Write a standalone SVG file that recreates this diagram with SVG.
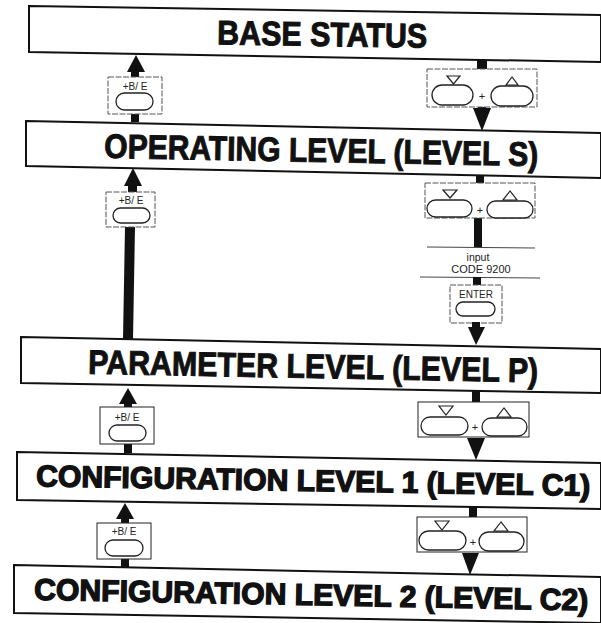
<svg xmlns="http://www.w3.org/2000/svg" width="601" height="623" viewBox="0 0 601 623">
<style>
.bar{fill:#fff;stroke:#111;stroke-width:2}
.title{font-family:"Liberation Sans",Arial,sans-serif;font-weight:bold;font-size:34px;fill:#111;stroke:#111;stroke-width:1;text-anchor:middle}
.title2{font-family:"Liberation Sans",Arial,sans-serif;font-weight:bold;font-size:30px;fill:#111;stroke:#111;stroke-width:1.4;text-anchor:middle}
.ink{fill:#111}
.box{fill:#fff;stroke:#555;stroke-width:1;stroke-dasharray:6 1.5}
.box2{fill:#fff;stroke:#222;stroke-width:1}
.oval{fill:#fff;stroke:#222;stroke-width:1.3}
.tri{fill:#fff;stroke:#222;stroke-width:1.2}
.key{font-family:"Liberation Sans",Arial,sans-serif;font-size:10px;fill:#222;text-anchor:middle}
.plus{font-family:"Liberation Sans",Arial,sans-serif;font-size:11px;fill:#222;text-anchor:middle}
.sep{stroke:#444;stroke-width:1;fill:none}
</style>
<rect width="601" height="623" fill="#fff"/>
<g id="base-status">
<polygon class="bar" points="29,6 601,15 601,62 29,52"/>
<text class="title" x="322" y="46" textLength="210" lengthAdjust="spacingAndGlyphs" transform="rotate(0.9 322 46)">BASE STATUS</text>
</g>
<g id="operating-level">
<polygon class="bar" points="26,121 601,133 601,178 26,166"/>
<text class="title" x="321" y="162" textLength="434" lengthAdjust="spacingAndGlyphs" transform="rotate(1.1 321 162)">OPERATING LEVEL (LEVEL S)</text>
</g>
<g id="parameter-level">
<polygon class="bar" points="21,337 601,349 601,393 21,383"/>
<text class="title" x="313" y="378" textLength="450" lengthAdjust="spacingAndGlyphs" transform="rotate(1.1 313 378)">PARAMETER LEVEL (LEVEL P)</text>
</g>
<g id="configuration-level-1">
<polygon class="bar" points="17,452 601,463 601,509 17,500"/>
<text class="title2" x="313" y="491" textLength="554" lengthAdjust="spacingAndGlyphs" transform="rotate(1 313 491)">CONFIGURATION LEVEL 1 (LEVEL C1)</text>
</g>
<g id="configuration-level-2">
<polygon class="bar" points="14,565 601,577 601,623 14,613"/>
<text class="title2" x="311" y="605" textLength="554" lengthAdjust="spacingAndGlyphs" transform="rotate(1.1 311 605)">CONFIGURATION LEVEL 2 (LEVEL C2)</text>
</g>
<g id="connectors">
<g id="up-1">
<rect class="ink" x="131" y="70" width="8" height="52"/>
<polygon class="ink" points="136,55 127,72 145,72"/>
<rect class="box" x="108" y="77" width="54" height="37"/>
<text class="key" x="135" y="90">+B/ E</text>
<rect class="oval" x="116" y="93" width="37" height="17" rx="8.5"/>
</g>
<g id="up-2">
<rect class="ink" x="128" y="184" width="9" height="10"/>
<polygon class="ink" points="125,227 135,227 133,339 123,339"/>
<polygon class="ink" points="133,168 124,186 142,186"/>
<rect class="box" x="106" y="192" width="49" height="35"/>
<text class="key" x="131" y="204">+B/ E</text>
<rect class="oval" x="113" y="208" width="37" height="15" rx="7.5"/>
</g>
<g id="up-3">
<rect class="ink" x="124" y="400" width="8" height="53"/>
<polygon class="ink" points="128,388 119,404 137,404"/>
<rect class="box2" x="100" y="407" width="54" height="37"/>
<text class="key" x="127" y="421">+B/ E</text>
<rect class="oval" x="109" y="425" width="37" height="16" rx="8"/>
</g>
<g id="up-4">
<rect class="ink" x="121" y="515" width="8" height="52"/>
<polygon class="ink" points="125,503 116,519 134,519"/>
<rect class="box2" x="97" y="523" width="54" height="36"/>
<text class="key" x="124" y="535">+B/ E</text>
<rect class="oval" x="105" y="540" width="38" height="16" rx="8"/>
</g>
<g id="down-1">
<rect class="ink" x="477" y="60" width="10" height="12"/>
<rect class="ink" x="478" y="105" width="8" height="5"/>
<polygon class="ink" points="473,108 491,108 482,131"/>
<rect class="box" x="427" y="69" width="110" height="38"/>
<polygon class="tri" points="447,76 460,76 453.5,84"/>
<polygon class="tri" points="512,77 506,85 518,85"/>
<rect class="oval" x="432" y="85" width="41" height="20" rx="10"/>
<rect class="oval" x="491" y="86" width="42" height="20" rx="10"/>
<text class="plus" x="482" y="100">+</text>
</g>
<g id="down-2">
<rect class="ink" x="476" y="175" width="8" height="10"/>
<rect class="ink" x="474" y="216" width="8" height="31"/>
<rect class="box" x="425" y="183" width="110" height="35"/>
<polygon class="tri" points="443,190 457,190 450,198"/>
<polygon class="tri" points="510,191 503,200 517,200"/>
<rect class="oval" x="427" y="200" width="45" height="17" rx="8.5"/>
<rect class="oval" x="487" y="201" width="46" height="17" rx="8.5"/>
<text class="plus" x="480" y="214">+</text>
<line class="sep" x1="427" y1="247" x2="535" y2="248"/>
<text class="key" x="478" y="261" style="font-size:10.5px">input</text>
<text class="key" x="481" y="273" style="font-size:11px">CODE 9200</text>
<line class="sep" x1="420" y1="277" x2="540" y2="278"/>
<rect class="ink" x="473" y="277" width="8" height="9"/>
<rect class="box" x="450" y="285" width="52" height="38"/>
<text class="key" x="476" y="298">ENTER</text>
<rect class="oval" x="456" y="302" width="39" height="14" rx="7"/>
<rect class="ink" x="472" y="322" width="8" height="6"/>
<polygon class="ink" points="468,327 485,327 476,345"/>
</g>
<g id="down-3">
<rect class="ink" x="472" y="391" width="8" height="12"/>
<rect class="box2" x="418" y="402" width="111" height="35"/>
<polygon class="tri" points="439,406 453,406 446,415"/>
<polygon class="tri" points="504,408 497,417 511,417"/>
<rect class="oval" x="421" y="417" width="47" height="18" rx="9"/>
<rect class="oval" x="482" y="418" width="45" height="18" rx="9"/>
<text class="plus" x="475" y="431">+</text>
<polygon class="ink" points="467,438 485,438 476,460"/>
</g>
<g id="down-4">
<rect class="ink" x="469" y="507" width="8" height="11"/>
<rect class="box2" x="417" y="517" width="110" height="35"/>
<polygon class="tri" points="435,521 449,521 442,530"/>
<polygon class="tri" points="501,522 494,531 508,531"/>
<rect class="oval" x="419" y="531" width="47" height="19" rx="9.5"/>
<rect class="oval" x="479" y="532" width="45" height="19" rx="9.5"/>
<text class="plus" x="473" y="546">+</text>
<polygon class="ink" points="462,553 479,553 470,575"/>
</g>
</g>
</svg>
